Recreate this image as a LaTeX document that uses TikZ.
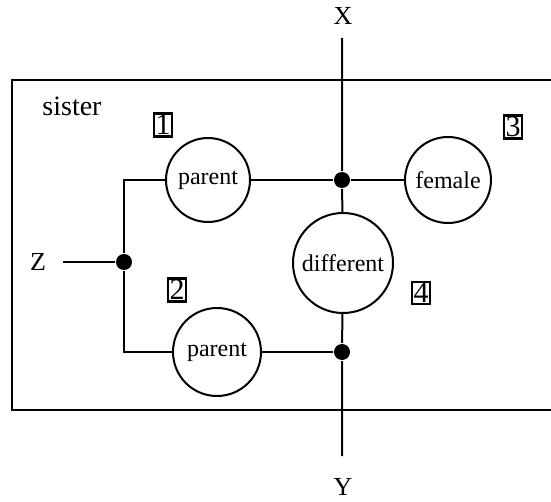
\documentclass[tikz,border=0pt]{standalone}
\usepackage{fontspec}
\setmainfont{Liberation Serif}
\usepackage{tikz}
\usetikzlibrary{positioning}

\begin{document}
\begin{tikzpicture}[x=0.5pt, y=-0.5pt, line width=1pt,
  relation/.style={draw, circle, inner sep=0pt, font=\fontsize{12}{14}\selectfont},
  argnum/.style={draw, inner sep=0.7pt, line width=1.2pt, font=\fontsize{15}{15}\selectfont},
  varlabel/.style={font=\fontsize{13}{13}\selectfont},
  junction/.style={fill=black, circle, inner sep=0pt, minimum size=8pt}]
\useasboundingbox (0,0) rectangle (551,502);
\draw[line width=1.3pt] (551,80) -- (12,80) -- (12,410) -- (551,410);
\node[font=\fontsize{14}{14}\selectfont] (sister) at (72,106) {sister};

\node[relation, minimum size=42pt] (par1) at (208,180) {parent};
\node[relation, minimum size=43pt] (fem) at (448,180) {female};
\node[relation, minimum size=50pt] (diff) at (343,263) {different};
\node[relation, minimum size=44pt] (par2) at (217,352) {parent};

\node[argnum] (n1) at (163,125) {1};
\node[argnum] (n2) at (177,290) {2};
\node[argnum] (n3) at (513,127) {3};
\node[argnum] (n4) at (421,293) {4};

\node[varlabel] (X) at (343,16) {X};
\node[varlabel] (Y) at (343,487) {Y};
\node[varlabel] (Z) at (38,262) {Z};
\coordinate (xend) at (342,38);
\coordinate (yend) at (342,456);
\coordinate (zend) at (63,262);

\node[junction] (jtop) at (342,180) {};
\node[junction] (jbot) at (342,352) {};
\node[junction] (jz) at (124,262) {};

% vertical X--Y line
\draw (xend) -- (jtop) -- (diff);
\draw (diff) -- (jbot) -- (yend);
% sister's horizontal links
\draw (par1) -- (jtop) -- (fem);
\draw (par2) -- (jbot);
\draw (par1.west) -| (jz);
\draw (par2.west) -| (jz);
\draw (zend) -- (jz);
\end{tikzpicture}
\end{document}
